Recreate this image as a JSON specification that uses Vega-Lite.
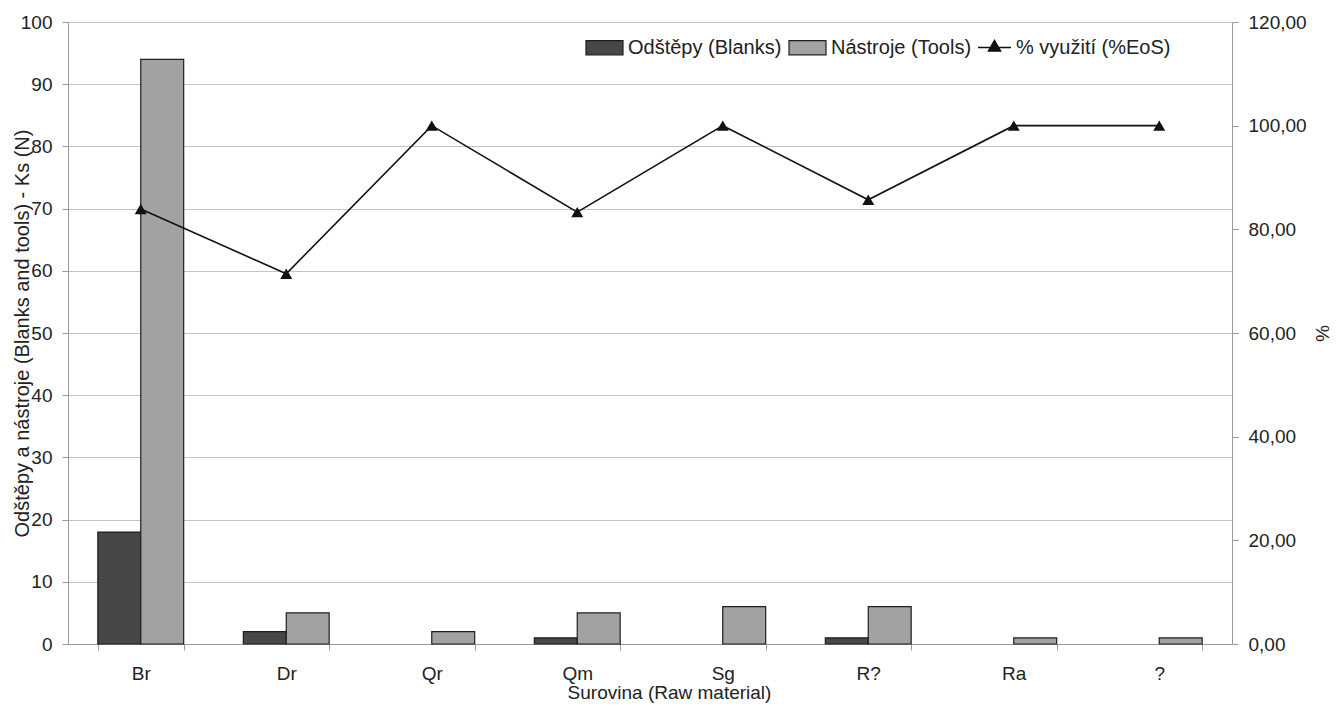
{
  "$schema": "https://vega.github.io/schema/vega-lite/v6.json",
  "width": 1164,
  "height": 622,
  "autosize": {"type": "none"},
  "padding": {"left": 68, "top": 22, "right": 112, "bottom": 65},
  "background": "white",
  "config": {
    "font": "Liberation Sans",
    "view": {"stroke": null},
    "axis": {
      "labelFont": "Liberation Sans",
      "titleFont": "Liberation Sans",
      "labelFontSize": 19,
      "titleFontSize": 19,
      "titleFontWeight": "normal",
      "labelColor": "#222222",
      "titleColor": "#222222",
      "domainColor": "#999999",
      "tickColor": "#999999",
      "gridColor": "#c4c4c4",
      "tickSize": 6
    },
    "legend": {
      "labelFont": "Liberation Sans",
      "labelFontSize": 20,
      "labelColor": "#222222"
    }
  },
  "datasets": {
    "bars": [
      {"cat": "Br", "series": "Odštěpy (Blanks)", "n": 18},
      {"cat": "Br", "series": "Nástroje (Tools)", "n": 94},
      {"cat": "Dr", "series": "Odštěpy (Blanks)", "n": 2},
      {"cat": "Dr", "series": "Nástroje (Tools)", "n": 5},
      {"cat": "Qr", "series": "Nástroje (Tools)", "n": 2},
      {"cat": "Qm", "series": "Odštěpy (Blanks)", "n": 1},
      {"cat": "Qm", "series": "Nástroje (Tools)", "n": 5},
      {"cat": "Sg", "series": "Nástroje (Tools)", "n": 6},
      {"cat": "R?", "series": "Odštěpy (Blanks)", "n": 1},
      {"cat": "R?", "series": "Nástroje (Tools)", "n": 6},
      {"cat": "Ra", "series": "Nástroje (Tools)", "n": 1},
      {"cat": "?", "series": "Nástroje (Tools)", "n": 1}
    ],
    "pct": [
      {"cat": "Br", "pct": 83.93, "label": "% využití (%EoS)"},
      {"cat": "Dr", "pct": 71.43, "label": "% využití (%EoS)"},
      {"cat": "Qr", "pct": 100, "label": "% využití (%EoS)"},
      {"cat": "Qm", "pct": 83.33, "label": "% využití (%EoS)"},
      {"cat": "Sg", "pct": 100, "label": "% využití (%EoS)"},
      {"cat": "R?", "pct": 85.71, "label": "% využití (%EoS)"},
      {"cat": "Ra", "pct": 100, "label": "% využití (%EoS)"},
      {"cat": "?", "pct": 100, "label": "% využití (%EoS)"}
    ]
  },
  "layer": [
    {
      "data": {"name": "bars"},
      "mark": {"type": "bar", "stroke": "#1e1e1e", "strokeWidth": 1.2},
      "encoding": {
        "x": {
          "field": "cat",
          "type": "nominal",
          "sort": ["Br", "Dr", "Qr", "Qm", "Sg", "R?", "Ra", "?"],
          "scale": {"paddingInner": 0.41, "paddingOuter": 0.205},
          "axis": {
            "title": "Surovina (Raw material)",
            "labelAngle": 0,
            "tickBand": "extent",
            "labelPadding": 14,
            "titlePadding": 0,
            "titleX": 601,
            "grid": false
          }
        },
        "xOffset": {"field": "series", "sort": ["Odštěpy (Blanks)", "Nástroje (Tools)"]},
        "y": {
          "field": "n",
          "type": "quantitative",
          "scale": {"domain": [0, 100]},
          "axis": {
            "title": "Odštěpy a nástroje (Blanks and tools) - Ks (N)",
            "orient": "left",
            "values": [0, 10, 20, 30, 40, 50, 60, 70, 80, 90, 100],
            "labelPadding": 10,
            "grid": true,
            "titleFontSize": 20,
            "titleX": -36,
            "titleY": 311
          }
        },
        "color": {
          "field": "series",
          "type": "nominal",
          "sort": ["Odštěpy (Blanks)", "Nástroje (Tools)"],
          "scale": {"domain": ["Odštěpy (Blanks)", "Nástroje (Tools)"], "range": ["#474747", "#a2a2a2"]},
          "legend": {
            "title": null,
            "orient": "none",
            "direction": "horizontal",
            "legendX": 517,
            "legendY": 6,
            "symbolType": "M-1,-0.38H1V0.38H-1Z",
            "symbolSize": 1369,
            "symbolStrokeColor": "#1e1e1e",
            "symbolStrokeWidth": 1.2,
            "labelOffset": 4,
            "columnPadding": 4
          }
        }
      }
    },
    {
      "data": {"name": "pct"},
      "encoding": {
        "x": {"field": "cat", "type": "nominal", "sort": ["Br", "Dr", "Qr", "Qm", "Sg", "R?", "Ra", "?"]},
        "y": {
          "field": "pct",
          "type": "quantitative",
          "scale": {"domain": [0, 120]},
          "axis": {
            "title": "%",
            "orient": "right",
            "values": [0, 20, 40, 60, 80, 100, 120],
            "labelExpr": "replace(format(datum.value, '.2f'), '.', ',')",
            "labelPadding": 10,
            "titlePadding": 5,
            "grid": false
          }
        }
      },
      "layer": [
        {
          "mark": {"type": "line", "strokeWidth": 1.6},
          "encoding": {
            "stroke": {
              "field": "label",
              "type": "nominal",
              "scale": {"range": ["#111111"]},
              "legend": {
                "title": null,
                "orient": "none",
                "direction": "horizontal",
                "legendX": 909,
                "legendY": 8,
                "symbolType": "M-1,0H1M0,-0.42L0.36,0.21L-0.36,0.21Z",
                "symbolSize": 1089,
                "symbolStrokeWidth": 1.6,
                "labelOffset": 4,
                "encode": {"symbols": {"update": {"fill": {"value": "#111111"}, "stroke": {"value": "#111111"}}}}
              }
            }
          }
        },
        {
          "mark": {"type": "point", "shape": "triangle-up", "filled": true, "size": 144, "color": "#111111", "opacity": 1}
        }
      ]
    }
  ],
  "resolve": {"scale": {"y": "independent"}}
}
